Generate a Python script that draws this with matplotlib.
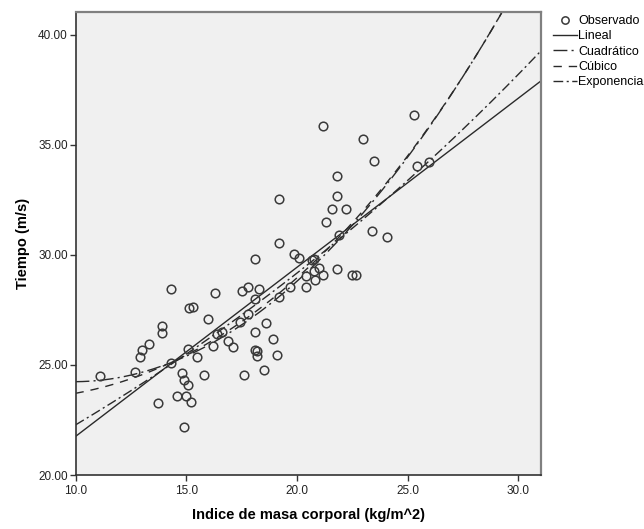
import numpy as np
import matplotlib
matplotlib.use("Agg")
import matplotlib.pyplot as plt

plt.rcParams['font.family'] = ['Liberation Sans', 'DejaVu Sans']

# Observed data (IMC, Tiempo)
imc = [25.3, 21.2, 23.0, 23.5, 25.41, 25.99, 21.81, 21.81, 19.2, 21.61,
       22.2, 21.31, 23.38, 24.08, 21.92, 19.2, 19.89, 20.11, 18.09, 20.79,
       20.7, 21.83, 21.0, 20.76, 20.81, 21.2, 20.4, 20.4, 19.7, 19.2,
       22.51, 22.69, 14.31, 16.3, 17.5, 17.8, 18.3, 18.09, 15.12, 15.29,
       17.8, 16.0, 17.41, 18.61, 13.9, 13.9, 18.09, 16.6, 16.41, 16.9,
       18.91, 13.3, 16.21, 17.1, 13.0, 15.1, 18.09, 18.19, 18.19, 19.11,
       12.9, 15.51, 14.31, 12.7, 11.11, 15.8, 17.6, 18.5, 14.8, 14.9,
       15.1, 14.6, 15.01, 13.71, 15.21, 14.9]
tiempo = [36.36, 35.86, 35.24, 34.26, 34.05, 34.22, 33.57, 32.68, 32.54, 32.07,
          32.07, 31.47, 31.1, 30.8, 30.88, 30.55, 30.03, 29.85, 29.81, 29.79,
          29.75, 29.35, 29.41, 29.26, 28.84, 29.08, 29.05, 28.54, 28.54, 28.07,
          29.08, 29.08, 28.45, 28.26, 28.37, 28.54, 28.45, 27.99, 27.6, 27.63,
          27.31, 27.09, 26.94, 26.89, 26.79, 26.45, 26.48, 26.51, 26.41, 26.09,
          26.17, 25.95, 25.86, 25.83, 25.67, 25.71, 25.67, 25.61, 25.42, 25.45,
          25.35, 25.35, 25.08, 24.69, 24.5, 24.54, 24.54, 24.77, 24.63, 24.32,
          24.08, 23.6, 23.6, 23.25, 23.33, 22.2]

# Fitted model coefficients (polynomials: highest power first)
lineal_coef = [0.768, 14.07]
cuadratico_coef = [0.0448, -0.8883, 28.641]
cubico_coef = [0.000345, 0.01992, -0.31514, 24.5243]
exponencial_a = 17.01
exponencial_b = 0.02696

legend_labels = ["Observado", "Lineal", "Cuadrático", "Cúbico", "Exponencia"]
x_ticks = [10.0, 15.0, 20.0, 25.0, 30.0]
y_ticks = [20.0, 25.0, 30.0, 35.0, 40.0]

fig = plt.figure(figsize=(6.44, 5.29), dpi=100)
ax = fig.add_axes([75.5 / 644, 54 / 529, (541 - 75.5) / 644, (475 - 12) / 529])
ax.set_facecolor('#f0f0f0')

xlim = (10.0, 31.03)
ylim = (20.0, 41.03)
xs = np.linspace(xlim[0], xlim[1], 400)

lc = '#2a2a2a'
lw = 1.0
ax.plot(imc, tiempo, linestyle='none', marker='o', markersize=6.2,
        markerfacecolor='none', markeredgecolor='#3a3a3a', markeredgewidth=1.1,
        label=legend_labels[0], zorder=3)
ax.plot(xs, np.polyval(lineal_coef, xs), color=lc, lw=lw, linestyle='-',
        label=legend_labels[1])
ax.plot(xs, np.polyval(cuadratico_coef, xs), color=lc, lw=lw,
        linestyle=(0, (10, 3, 1.5, 3)), label=legend_labels[2])
ax.plot(xs, np.polyval(cubico_coef, xs), color=lc, lw=lw,
        linestyle=(0, (6, 5)), label=legend_labels[3])
ax.plot(xs, exponencial_a * np.exp(exponencial_b * xs), color=lc, lw=lw,
        linestyle=(0, (7, 2.5, 1.5, 2.5)), label=legend_labels[4])

ax.set_xlim(*xlim)
ax.set_ylim(*ylim)
ax.set_xticks(x_ticks)
ax.set_xticklabels([f"{v:.1f}" for v in x_ticks])
ax.set_yticks(y_ticks)
ax.set_yticklabels([f"{v:.2f}" for v in y_ticks])
ax.tick_params(axis='both', direction='out', length=4, width=1, color='#333333',
               labelsize=8.5, labelcolor='#222222', pad=1.5)
ax.tick_params(axis='x', pad=3)

for side in ['left', 'bottom']:
    ax.spines[side].set_color('#333333')
    ax.spines[side].set_linewidth(1.2)
for side in ['top', 'right']:
    ax.spines[side].set_color('#808080')
    ax.spines[side].set_linewidth(1.6)

ax.set_xlabel("Indice de masa corporal (kg/m^2)", fontsize=10.5, fontweight='bold',
              labelpad=8)
ax.set_ylabel("Tiempo (m/s)", fontsize=10.5, fontweight='bold', labelpad=6)

leg = fig.legend(loc='upper left', bbox_to_anchor=(553 / 644, 1 - 15 / 529),
                 frameon=False, fontsize=9, handlelength=1.9, handletextpad=0.1,
                 labelspacing=0.27, borderaxespad=0, borderpad=0, markerscale=0.85)

fig.savefig("out.png", dpi=100)
